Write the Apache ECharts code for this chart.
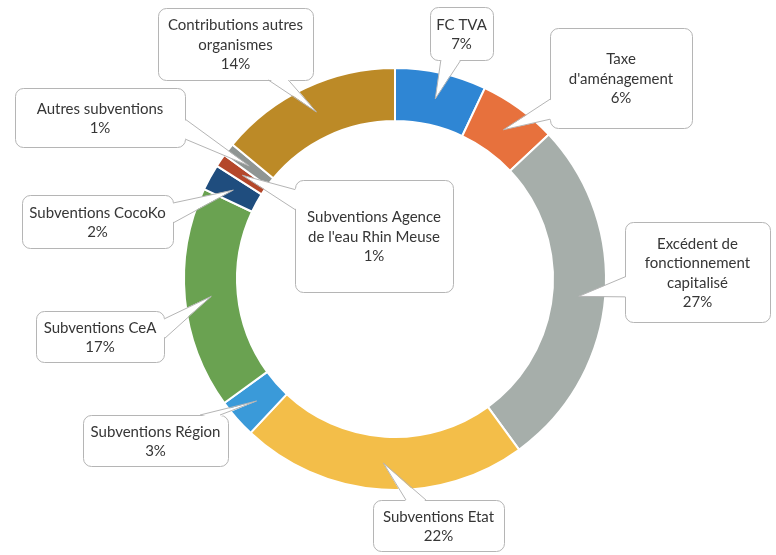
<!DOCTYPE html>
<html lang="fr">

<head>
  <meta charset="UTF-8">
  <title>Recettes d'investissement</title>
  <script src="https://cdn.jsdelivr.net/npm/echarts@6/dist/echarts.min.js"></script>
  <style>
    * {
      margin: 0;
      padding: 0;
    }

    #chart {
      width: 776px;
      height: 555px;
      background: #fff;
    }
  </style>
</head>

<body>
  <div id="chart"></div>
</body>

<script>
  // parts, clockwise from 12 o'clock
  var categories = ['FC TVA', "Taxe\nd'aménagement", 'Excédent de\nfonctionnement\ncapitalisé', 'Subventions Etat',
    'Subventions Région', 'Subventions CeA', 'Subventions CocoKo', "Subventions Agence\nde l'eau Rhin Meuse",
    'Autres subventions', 'Contributions autres\norganismes'];
  var values = [7, 6, 27, 22, 3, 17, 2, 1, 1, 14];
  var colors = ['#2f86d4', '#e7713d', '#a6aeaa', '#f3be49', '#3a9ad9', '#6aa251', '#1f4d7e', '#b4472a', '#8f9593', '#bc8a27'];

  // callout boxes [x, y, w, h]
  var boxes = [
    [430, 7, 63, 53],
    [550, 28, 142, 100],
    [625, 222, 145, 100],
    [373, 500, 131, 51],
    [83, 415, 145, 51],
    [36, 311, 128, 51],
    [22, 195, 151, 53],
    [295, 180, 158, 112],
    [15, 88, 170, 59],
    [158, 8, 155, 72]
  ];

  var CX = 395, CY = 279, R0 = 158, R1 = 211;

  var myChart = echarts.init(document.getElementById('chart'));

  // pointer tip: middle of the ring, middle of the slice
  var total = values.reduce(function (a, b) { return a + b; }, 0);
  var tips = [];
  var acc = 0;
  values.forEach(function (v) {
    var a = (acc + v / 2) / total * Math.PI * 2;
    var r = (R0 + R1) / 2;
    tips.push([CX + r * Math.sin(a), CY - r * Math.cos(a)]);
    acc += v;
  });

  function clamp(v, lo, hi) {
    return Math.max(lo, Math.min(hi, v));
  }

  // base of the callout wedge on the box edge facing the tip
  function wedgeBase(b, tip) {
    var x = b[0], y = b[1], w = b[2], h = b[3];
    var cx = x + w / 2, cy = y + h / 2;
    var dx = tip[0] - cx, dy = tip[1] - cy;
    var tx = dx !== 0 ? (w / 2) / Math.abs(dx) : Infinity;
    var ty = dy !== 0 ? (h / 2) / Math.abs(dy) : Infinity;
    var hw = 10, m = 8, ex, ey;
    if (tx < ty) {
      ex = dx > 0 ? x + w : x;
      ey = clamp(cy + dy * tx, y + m + hw, y + h - m - hw);
      var s = dx > 0 ? -1.5 : 1.5;
      return { line: [[ex, ey - hw], [ex, ey + hw]], fill: [[ex + s, ey - hw], [ex + s, ey + hw]] };
    }
    ey = dy > 0 ? y + h : y;
    ex = clamp(cx + dx * ty, x + m + hw, x + w - m - hw);
    var t = dy > 0 ? -1.5 : 1.5;
    return { line: [[ex - hw, ey], [ex + hw, ey]], fill: [[ex - hw, ey + t], [ex + hw, ey + t]] };
  }

  var graphics = [];
  boxes.forEach(function (b, i) {
    graphics.push({
      type: 'rect', z: 5, silent: true,
      shape: { x: b[0] + 0.5, y: b[1] + 0.5, width: b[2], height: b[3], r: 8 },
      style: { fill: '#fff', stroke: '#b5b5b5', lineWidth: 1 }
    });
    var wb = wedgeBase(b, tips[i]);
    graphics.push({
      type: 'polygon', z: 6, silent: true,
      shape: { points: [wb.fill[0], tips[i], wb.fill[1]] },
      style: { fill: '#fff', lineWidth: 0 }
    });
    graphics.push({
      type: 'polyline', z: 6, silent: true,
      shape: { points: [wb.line[0], tips[i], wb.line[1]] },
      style: { stroke: '#b5b5b5', lineWidth: 1, fill: null }
    });
  });

  var pieData = categories.map(function (c, i) {
    return { name: c, value: values[i] };
  });

  var option = {
    animation: false,
    backgroundColor: '#fff',
    graphic: graphics,
    series: [{
      // the ring
      type: 'pie',
      z: 1,
      silent: true,
      center: [CX, CY],
      radius: [R0, R1],
      startAngle: 90,
      clockwise: true,
      color: colors,
      itemStyle: { borderColor: '#fff', borderWidth: 2 },
      label: { show: false },
      labelLine: { show: false },
      data: pieData
    }, {
      // labels only, drawn above the callout boxes
      type: 'pie',
      z: 10,
      silent: true,
      center: [CX, CY],
      radius: [R0, R1],
      startAngle: 90,
      clockwise: true,
      avoidLabelOverlap: false,
      itemStyle: { color: 'rgba(0,0,0,0)', borderWidth: 0 },
      label: {
        show: true,
        position: 'outside',
        formatter: function (p) { return p.name + '\n' + p.value + '%'; },
        fontFamily: 'Lato',
        fontSize: 15,
        lineHeight: 19.5,
        color: '#363636',
        align: 'center'
      },
      labelLine: { show: false },
      labelLayout: function (p) {
        var b = boxes[p.dataIndex];
        return { x: b[0] + b[2] / 2, y: b[1] + b[3] / 2 + 1, align: 'center', verticalAlign: 'middle' };
      },
      data: pieData
    }]
  };

  myChart.setOption(option);
</script>

</html>
